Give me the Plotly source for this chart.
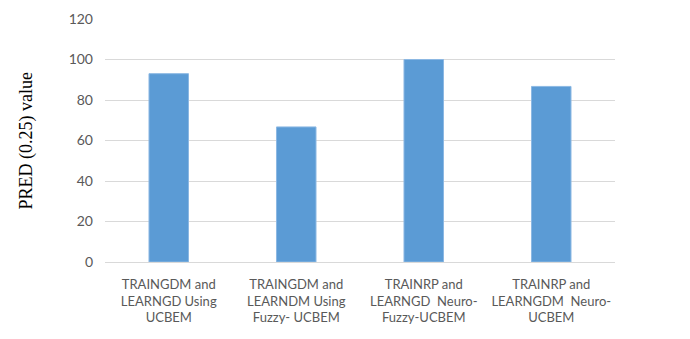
import plotly.graph_objects as go

categories = [
    "TRAINGDM and<br>LEARNGD Using<br>UCBEM",
    "TRAINGDM and<br>LEARNDM Using<br>Fuzzy- UCBEM",
    "TRAINRP and<br>LEARNGD  Neuro-<br>Fuzzy-UCBEM",
    "TRAINRP and<br>LEARNGDM  Neuro-<br>UCBEM",
]
values = [93.0, 66.7, 100.0, 86.7]
y_ticks = [0, 20, 40, 60, 80, 100, 120]
y_title = "PRED (0.25) value"

fig = go.Figure(
    go.Bar(
        x=categories,
        y=values,
        marker=dict(color="#5B9BD5", line=dict(color="#8CB8E3", width=1)),
        width=0.31,
    )
)

# page body has an 8px margin, so the figure is 674x323 inside a 690x339 window
fig.update_layout(
    width=674,
    height=323,
    margin=dict(l=97, r=67, t=11, b=69, autoexpand=False),
    plot_bgcolor="white",
    paper_bgcolor="white",
    showlegend=False,
    font=dict(family="Lato", size=14, color="#595959"),
    annotations=[
        dict(
            text=y_title,
            xref="paper",
            yref="paper",
            x=-0.153,
            y=0.5,
            xanchor="center",
            yanchor="middle",
            textangle=-90,
            showarrow=False,
            font=dict(family="Liberation Serif", size=18, color="black"),
        )
    ],
)
fig.update_xaxes(
    automargin=False,
    showgrid=False,
    showline=True,
    linecolor="#D9D9D9",
    linewidth=1,
    ticks="",
    ticklabelstandoff=10,
    tickfont=dict(family="Lato", size=13, color="#595959"),
)
fig.update_yaxes(
    automargin=False,
    range=[0, 120],
    tickvals=y_ticks,
    showgrid=True,
    gridcolor="#D9D9D9",
    gridwidth=1,
    zeroline=False,
    ticks="",
    ticklen=0,
    ticklabelstandoff=11,
    tickfont=dict(family="Lato", size=14, color="#595959"),
)

fig.write_html("out.html")
